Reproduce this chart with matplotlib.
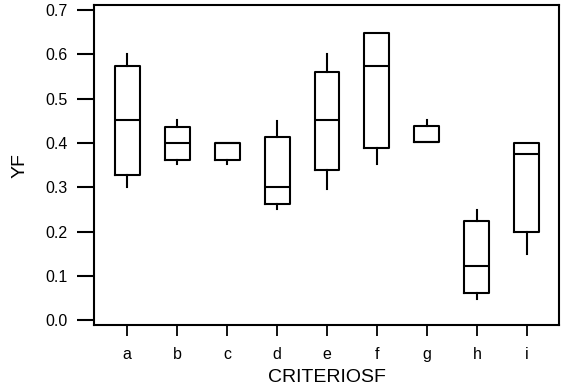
import matplotlib
matplotlib.use("Agg")
import matplotlib.pyplot as plt

plt.rcParams['font.family'] = ['Liberation Sans', 'DejaVu Sans']

categories = ['a', 'b', 'c', 'd', 'e', 'f', 'g', 'h', 'i']
whislo = [0.30, 0.352, 0.352, 0.252, 0.297, 0.352, 0.402, 0.049, 0.150]
q1 = [0.327, 0.361, 0.361, 0.263, 0.339, 0.389, 0.402, 0.062, 0.200]
med = [0.451, 0.400, 0.400, 0.300, 0.451, 0.574, 0.402, 0.123, 0.375]
q3 = [0.574, 0.436, 0.400, 0.414, 0.560, 0.649, 0.438, 0.224, 0.400]
whishi = [0.60, 0.451, 0.400, 0.450, 0.600, 0.649, 0.451, 0.248, 0.400]

stats = []
for i in range(len(categories)):
    stats.append(dict(label=categories[i], whislo=whislo[i], q1=q1[i], med=med[i],
                      q3=q3[i], whishi=whishi[i], fliers=[]))

fig = plt.figure(figsize=(5.61, 3.88), dpi=100)
ax = fig.add_axes([0.168, 0.162, 0.828, 0.825])

lw = 1.5
ax.bxp(stats, positions=range(1, 10), widths=0.5, showcaps=False, showfliers=False,
       boxprops=dict(color='black', linewidth=lw),
       medianprops=dict(color='black', linewidth=lw),
       whiskerprops=dict(color='black', linewidth=lw))

ax.set_xlim(0.34, 9.64)
ax.set_ylim(-0.011, 0.711)
ax.set_yticks([0.0, 0.1, 0.2, 0.3, 0.4, 0.5, 0.6, 0.7])
ax.set_yticklabels(['0.0', '0.1', '0.2', '0.3', '0.4', '0.5', '0.6', '0.7'])
ax.set_xticks(range(1, 10))
ax.set_xticklabels(categories)

for s in ax.spines.values():
    s.set_linewidth(1.5)
ax.tick_params(axis='y', length=12, width=1.5, pad=7, labelsize=11.5)
ax.tick_params(axis='x', length=8, width=1.3, pad=8, labelsize=11.5)

ax.set_xlabel('CRITERIOSF', fontsize=14, labelpad=5)
ax.set_ylabel('YF', fontsize=14, labelpad=12)

fig.savefig('out.png', dpi=100)
